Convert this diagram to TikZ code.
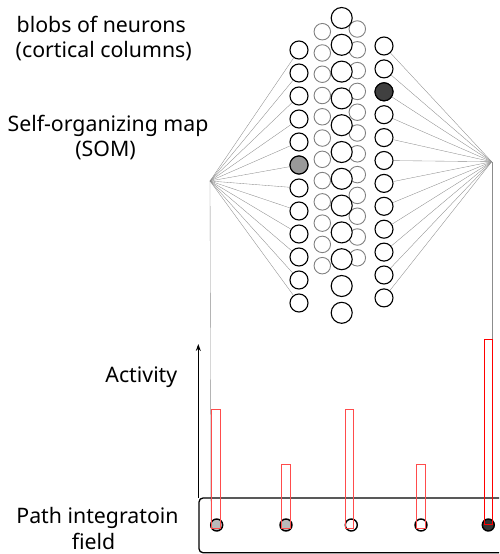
\documentclass[tikz,border=0pt]{standalone}
\usepackage{fontspec}
\setmainfont{Noto Sans}
\usetikzlibrary{arrows.meta}
\begin{document}
\begin{tikzpicture}[x=1pt,y=-1pt,
  fanline/.style={draw=black!45, line width=0.35pt},
  unit/.style={circle, draw=black, line width=1.1pt, fill=white, inner sep=0pt, minimum size=18pt},
  bigunit/.style={unit, minimum size=21pt},
  ghost/.style={circle, draw=black!50, line width=0.9pt, fill=white, inner sep=0pt, minimum size=16.5pt},
  pif/.style={circle, draw=black, line width=1.4pt, inner sep=0pt, minimum size=12pt},
  barbox/.style={draw=red!70, line width=0.8pt},
  lbl/.style={anchor=base, font=\fontsize{21.3}{26}\selectfont, inner sep=0pt}
]
\useasboundingbox (0,0) rectangle (499,554);
\clip (0,0) rectangle (499,554);

% fan points
\coordinate (lfan) at (210,181);
\coordinate (rfan) at (491.7,161.7);
\coordinate (lend) at (211,528);
\coordinate (rend) at (491.7,339);

% column nodes
\foreach \i in {1,...,12} {
  \node[ghost] (GL\i) at (322.3,{31.7+21.27*(\i-1)}) {};
  \node[ghost] (GR\i) at (357.3,{29+20.8*(\i-1)}) {};
}
\foreach \i in {1,...,12} {
  \node[bigunit] (B\i) at (341.7,{18+26.8*(\i-1)}) {};
}
\foreach \i in {1,...,12} {
  \node[unit] (L\i) at (299,{50+23*(\i-1)}) {};
  \node[unit] (R\i) at (384,{46+22.9*(\i-1)}) {};
}
\node[unit, fill=black!40] at (L6) {};
\node[unit, fill=black!75] at (R3) {};

% fan connectors
\foreach \i in {1,...,12} {
  \draw[fanline] (lfan) -- (L\i);
  \draw[fanline] (rfan) -- (R\i);
}
\draw[fanline] (lfan) -- (lend);
\draw[fanline] (rfan) -- (rend);

% path integration field
\draw[line width=1.3pt, rounded corners=4pt] (199,498) rectangle (515,552.7);
\coordinate (axbot) at (198.3,498);
\coordinate (axtop) at (198.3,344);
\draw[line width=0.9pt, -{Stealth[length=7pt,width=5pt]}] (axbot) -- (axtop);

\node[pif, fill=black!27] (P1) at (216.7,525) {};
\node[pif, fill=black!27] (P2) at (286,525) {};
\node[pif, fill=white] (P3) at (351.3,525) {};
\node[pif, fill=white] (P4) at (421,525) {};
\node[pif, fill=black!80] (P5) at (488.3,525) {};

% activity bars
\draw[barbox] (211,409) rectangle (220,528);
\draw[barbox] (281,464.3) rectangle (290.7,528);
\draw[barbox] (345,409) rectangle (353.3,528);
\draw[barbox] (416.7,464) rectangle (425.7,528);
\draw[barbox, draw=red, line width=1pt] (484.3,339) rectangle (492.7,524.3);

% labels
\node[lbl, anchor=base west] (t1) at (16.5,32.3) {blobs of neurons};
\node[lbl, anchor=base west] (t2) at (15.5,57.5) {(cortical columns)};
\node[lbl] (t3) at (108,131) {Self-organizing map};
\node[lbl] (t4) at (105.5,156.5) {(SOM)};
\node[lbl, anchor=base east] (t5) at (177.5,382.3) {Activity};
\node[lbl] (t6) at (97.5,523.5) {Path integratoin};
\node[lbl] (t7) at (93.5,549.5) {field};
\end{tikzpicture}
\end{document}
